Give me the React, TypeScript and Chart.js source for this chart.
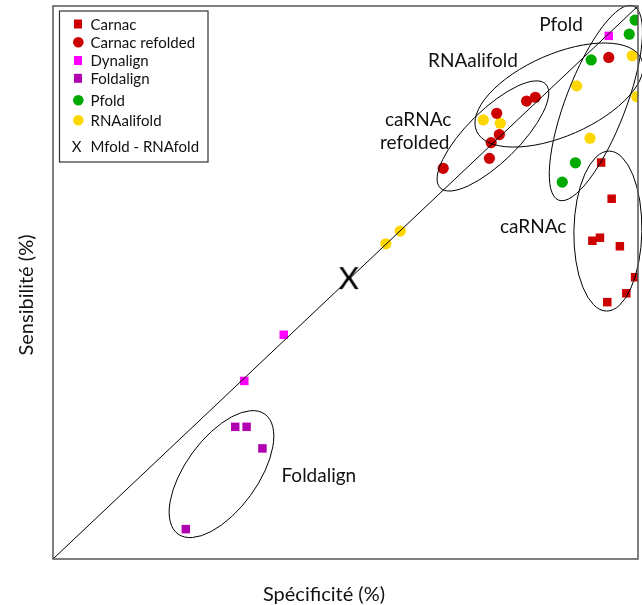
import React, { useEffect, useRef } from 'react';
import { Chart, registerables } from 'chart.js';

Chart.register(...registerables);

// ---- data (Spécificité %, Sensibilité %) ----
const seriesLabels = ['Carnac', 'Carnac refolded', 'Dynalign', 'Foldalign', 'Pfold', 'RNAalifold'];
const carnacX = [93.7, 95.5, 92.2, 93.5, 96.9, 99.5, 98.0, 94.75];
const carnacY = [71.7, 65.15, 57.55, 58.1, 56.55, 50.95, 48.05, 46.45];
const carnacRefX = [95.0, 82.45, 80.95, 75.85, 76.3, 74.9, 74.6, 66.7];
const carnacRefY = [90.7, 83.5, 82.8, 80.6, 76.75, 75.3, 72.45, 70.65];
const dynalignX = [32.7, 39.45, 95.0];
const dynalignY = [32.2, 40.55, 94.6];
const foldalignX = [31.15, 33.1, 35.8, 22.7];
const foldalignY = [23.9, 23.9, 20.0, 5.4];
const pfoldX = [99.5, 98.5, 92.0, 89.3, 87.05];
const pfoldY = [97.45, 94.9, 90.25, 71.65, 68.15];
const rnaalifoldX = [99.0, 89.5, 99.8, 91.8, 73.55, 76.45, 56.9, 59.35];
const rnaalifoldY = [91.0, 85.55, 83.6, 76.1, 79.4, 78.8, 57.0, 59.3];
const mfoldLabel = 'Mfold - RNAfold';
const mfoldX = [50.55];
const mfoldY = [50.8];

// group annotations: centre in data units, semi-axes in px, tilt in degrees
const groupEllipses = [
  { x: 28.8, y: 15.35, a: 74, b: 36, angle: 54 },
  { x: 75.2, y: 76.5, a: 74, b: 26, angle: 44.5 },
  { x: 86.5, y: 83.9, a: 90, b: 41, angle: 23.6 },
  { x: 92.8, y: 82.45, a: 104, b: 30, angle: 69 },
  { x: 94.85, y: 59.3, a: 80, b: 34, angle: 89 },
];
const groupLabels = [
  { text: 'Pfold', x: 83.1, y: 95.5 },
  { text: 'RNAalifold', x: 64.1, y: 89.0 },
  { text: 'caRNAc', x: 56.75, y: 78.3 },
  { text: 'refolded', x: 55.9, y: 74.1 },
  { text: 'caRNAc', x: 76.4, y: 58.9 },
  { text: 'Foldalign', x: 39.05, y: 14.0 },
];
const xTitle = 'Spécificité (%)';
const yTitle = 'Sensibilité (%)';

const colors = ['#CC0000', '#CC0000', '#FF00FF', '#B000B0', '#00AA00', '#FFD700'];
const styles = ['rect', 'circle', 'rect', 'rect', 'circle', 'circle'];

const toPts = (xs: number[], ys: number[]) => xs.map((x, i) => ({ x, y: ys[i] }));

const FONT = 'Lato, "Open Sans", sans-serif';

export default function App() {
  const ref = useRef<HTMLCanvasElement | null>(null);

  useEffect(() => {
    document.body.style.margin = '0';
    const canvas = ref.current!;

    const xMark = document.createElement('canvas');
    xMark.width = 30;
    xMark.height = 30;
    const xc = xMark.getContext('2d')!;
    xc.fillStyle = '#000';
    xc.font = `31px ${FONT}`;
    xc.textAlign = 'center';
    xc.textBaseline = 'alphabetic';
    xc.fillText('X', 15, 26.2);

    const series = [
      toPts(carnacX, carnacY),
      toPts(carnacRefX, carnacRefY),
      toPts(dynalignX, dynalignY),
      toPts(foldalignX, foldalignY),
      toPts(pfoldX, pfoldY),
      toPts(rnaalifoldX, rnaalifoldY),
    ];

    const datasets: any[] = series.map((pts, i) => ({
      type: 'scatter',
      label: seriesLabels[i],
      data: pts,
      pointStyle: styles[i],
      pointRadius: styles[i] === 'rect' ? 6 : 5.6,
      backgroundColor: colors[i],
      borderColor: colors[i],
      borderWidth: 0,
      order: 1,
    }));
    datasets.push({
      type: 'scatter',
      label: mfoldLabel,
      data: toPts(mfoldX, mfoldY),
      pointStyle: xMark,
      pointRadius: 15,
      order: 1,
    });
    datasets.push({
      type: 'line',
      label: 'diag',
      data: [{ x: 0, y: 0 }, { x: 100, y: 100 }],
      borderColor: '#000',
      borderWidth: 1,
      pointRadius: 0,
      fill: false,
      order: -1,
    });

    const overlay = {
      id: 'overlay',
      afterDatasetsDraw(chart: any) {
        const { ctx, chartArea: ca, scales } = chart;
        const xs = scales.x, ys = scales.y;
        ctx.save();
        // ellipses
        ctx.strokeStyle = '#000';
        ctx.lineWidth = 1;
        groupEllipses.forEach((e) => {
          ctx.beginPath();
          ctx.ellipse(xs.getPixelForValue(e.x), ys.getPixelForValue(e.y), e.a, e.b, (-e.angle * Math.PI) / 180, 0, Math.PI * 2);
          ctx.stroke();
        });
        // group labels
        ctx.fillStyle = '#111';
        ctx.font = `19px ${FONT}`;
        ctx.textAlign = 'left';
        ctx.textBaseline = 'alphabetic';
        groupLabels.forEach((l) => {
          ctx.fillText(l.text, xs.getPixelForValue(l.x), ys.getPixelForValue(l.y));
        });
        // frame
        ctx.strokeStyle = '#555';
        ctx.lineWidth = 1.5;
        ctx.strokeRect(ca.left, ca.top, ca.right - ca.left, ca.bottom - ca.top);
        // axis titles
        ctx.fillStyle = '#111';
        ctx.font = `20px ${FONT}`;
        ctx.textAlign = 'center';
        ctx.fillText(xTitle, 324, 601);
        ctx.save();
        ctx.translate(33, 295);
        ctx.rotate(-Math.PI / 2);
        ctx.fillText(yTitle, 0, 0);
        ctx.restore();
        // legend
        const lx = 59.5, ly = 11, lw = 148.5, lh = 151;
        ctx.fillStyle = '#fff';
        ctx.fillRect(lx, ly, lw, lh);
        ctx.strokeStyle = '#333';
        ctx.lineWidth = 1.2;
        ctx.strokeRect(lx, ly, lw, lh);
        const rowY = [24, 42.3, 60.5, 78.3, 100.2, 120.3, 146.5];
        ctx.font = `15px ${FONT}`;
        ctx.textAlign = 'left';
        chart.data.datasets.forEach((ds: any, i: number) => {
          if (i >= rowY.length) return;
          const y = rowY[i];
          if (i < 6) {
            ctx.fillStyle = ds.backgroundColor;
            if (ds.pointStyle === 'rect') {
              ctx.fillRect(74, y - 4.5, 8, 9);
            } else {
              ctx.beginPath();
              ctx.arc(78.3, y, 5.3, 0, Math.PI * 2);
              ctx.fill();
            }
          } else {
            ctx.fillStyle = '#111';
            ctx.textAlign = 'center';
            ctx.fillText('X', 76.5, y + 5.5);
            ctx.textAlign = 'left';
          }
          ctx.fillStyle = '#111';
          ctx.fillText(ds.label, 90.5, y + 5.5);
        });
        ctx.restore();
      },
    };

    const chart = new Chart(canvas, {
      type: 'scatter',
      data: { datasets },
      options: {
        responsive: false,
        animation: false,
        layout: { autoPadding: false, padding: { left: 53, top: 6, right: 4, bottom: 46 } },
        plugins: { legend: { display: false }, tooltip: { enabled: false } },
        scales: {
          x: { type: 'linear', min: 0, max: 100, display: false },
          y: { type: 'linear', min: 0, max: 100, display: false },
        },
      },
      plugins: [overlay],
    });
    return () => chart.destroy();
  }, []);

  return <canvas ref={ref} width={642} height={605} style={{ display: 'block', width: 642, height: 605 }} />;
}
